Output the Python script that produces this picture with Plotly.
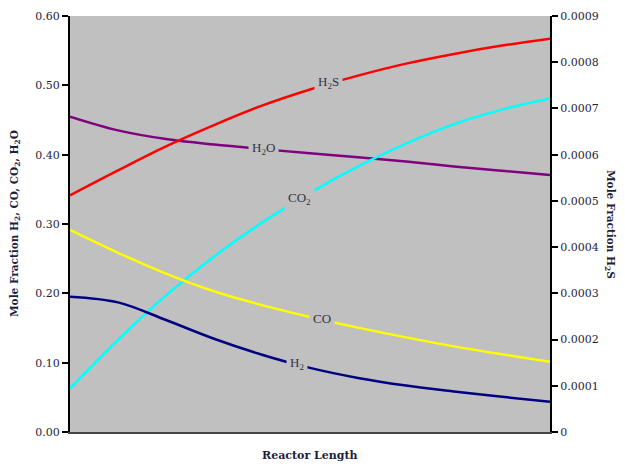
import plotly.graph_objects as go

# Reactor length (fraction of length)
x_pos = [0.0, 0.1, 0.2, 0.3, 0.4, 0.5, 0.6, 0.7, 0.8, 0.9, 1.0]

h2o = [0.4548, 0.4350, 0.4225, 0.4145, 0.4080, 0.4020, 0.3962, 0.3900, 0.3830, 0.3767, 0.3707]
co2 = [0.0630, 0.1330, 0.1970, 0.2530, 0.3020, 0.3450, 0.3830, 0.4160, 0.4440, 0.4650, 0.4810]
co = [0.2914, 0.2585, 0.2285, 0.2030, 0.1830, 0.1660, 0.1505, 0.1365, 0.1235, 0.1120, 0.1014]
h2 = [0.1952, 0.1870, 0.1615, 0.1345, 0.1115, 0.0925, 0.0780, 0.0670, 0.0585, 0.0508, 0.0437]
h2s = [0.000512, 0.000566, 0.000618, 0.000664, 0.000706, 0.000741, 0.000771, 0.000797, 0.000818, 0.000836, 0.000851]

left_ticks = [0.0, 0.1, 0.2, 0.3, 0.4, 0.5, 0.6]
right_ticks = [0, 0.0001, 0.0002, 0.0003, 0.0004, 0.0005, 0.0006, 0.0007, 0.0008, 0.0009]
right_tick_text = ["0", "0.0001", "0.0002", "0.0003", "0.0004", "0.0005", "0.0006", "0.0007", "0.0008", "0.0009"]

labels = [
    ("H<sub>2</sub>S", 0.5375, 0.5034),
    ("H<sub>2</sub>O", 0.404, 0.4096),
    ("CO<sub>2</sub>", 0.479, 0.3375),
    ("CO", 0.525, 0.1644),
    ("H<sub>2</sub>", 0.473, 0.0995),
]

SERIF = "DejaVu Serif, serif"
TXT = "#1e1e3c"

fig = go.Figure()
fig.add_trace(go.Scatter(x=x_pos, y=h2o, mode="lines", line=dict(color="#800080", width=2.5, shape="spline"), name="H2O"))
fig.add_trace(go.Scatter(x=x_pos, y=co2, mode="lines", line=dict(color="#00FFFF", width=2.5, shape="spline"), name="CO2"))
fig.add_trace(go.Scatter(x=x_pos, y=co, mode="lines", line=dict(color="#FFFF00", width=2.5, shape="spline"), name="CO"))
fig.add_trace(go.Scatter(x=x_pos, y=h2, mode="lines", line=dict(color="#000080", width=2.5, shape="spline"), name="H2"))
fig.add_trace(go.Scatter(x=x_pos, y=h2s, mode="lines", line=dict(color="#FF0000", width=2.5, shape="spline"), name="H2S", yaxis="y2"))

for txt, lx, ly in labels:
    fig.add_annotation(x=lx, y=ly, xref="x", yref="y", text=txt, showarrow=False,
                       font=dict(family="Liberation Serif, serif", size=13, color="#333344"),
                       bgcolor="#C0C0C0", borderpad=3)

# axis titles
fig.add_annotation(x=1.0, xref="paper", xshift=60, xanchor="center", y=0.5, yref="paper", yanchor="middle",
                   text="<b>Mole Fraction H<sub>2</sub>S</b>", textangle=90, showarrow=False,
                   font=dict(family=SERIF, size=10.5, color=TXT))
fig.add_annotation(x=0.0, xref="paper", xshift=-55, xanchor="center", y=0.5, yref="paper", yanchor="middle",
                   text="<b>Mole Fraction H<sub>2</sub>, CO, CO<sub>2</sub>, H<sub>2</sub>O</b>",
                   textangle=-90, showarrow=False,
                   font=dict(family=SERIF, size=10.5, color=TXT))
fig.add_annotation(x=0.5, xref="paper", xanchor="center", y=0.0, yref="paper", yanchor="middle", yshift=-23,
                   text="<b>Reactor Length</b>", showarrow=False,
                   font=dict(family=SERIF, size=11, color=TXT))

fig.update_layout(
    width=617, height=458,
    margin=dict(l=62, r=75, t=8, b=34, autoexpand=False),
    paper_bgcolor="white", plot_bgcolor="#C0C0C0",
    showlegend=False,
    xaxis=dict(range=[0, 1], showticklabels=False, ticks="", showgrid=False, zeroline=False, automargin=False,
               showline=True, linecolor="#444444", linewidth=2),
    yaxis=dict(range=[0, 0.6], tickvals=left_ticks, tickformat=".2f", ticks="outside", ticklen=6,
               tickwidth=2, tickcolor="black", showgrid=False, zeroline=False, automargin=False,
               showline=True, linecolor="black", linewidth=2,
               tickfont=dict(family=SERIF, size=11, color=TXT)),
    yaxis2=dict(range=[0, 0.0009], overlaying="y", side="right", tickvals=right_ticks, ticktext=right_tick_text,
                ticks="outside", ticklen=6, tickwidth=2, tickcolor="black", showgrid=False, zeroline=False,
                automargin=False, showline=True, linecolor="black", linewidth=2,
                tickfont=dict(family=SERIF, size=11, color=TXT)),
)

fig.write_html("out.html")
